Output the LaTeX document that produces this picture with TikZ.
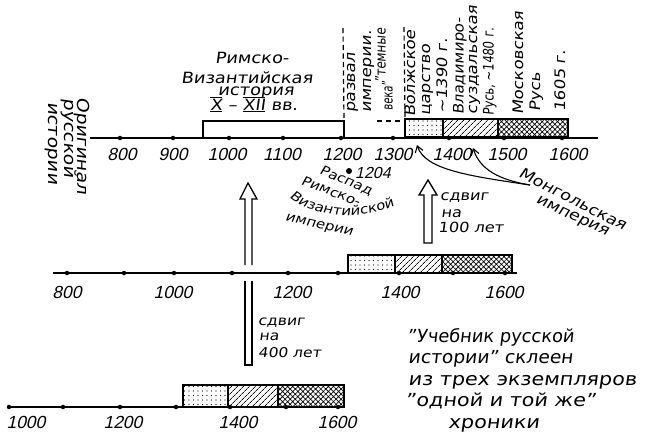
\documentclass[tikz,border=0pt]{standalone}
\usepackage{fontspec}
\setmainfont{DejaVu Sans}[FakeSlant=0.14,FakeStretch=1.15]
\newfontfamily\numfont{Liberation Sans}[FakeSlant=0.22]
\usetikzlibrary{patterns.meta,arrows.meta,decorations.text}
\newcommand\fs[1]{\fontsize{#1}{#1}\selectfont}
\newcommand\barred[1]{$\overline{\underline{\hbox{#1}}}$}
\tikzset{
  axis/.style={line width=1.3pt},
  tick/.style={circle,fill=black,inner sep=0pt,minimum size=4.5pt},
  yr/.style={font=\numfont\fs{17.5},inner sep=0pt,anchor=base},
  col/.style={rotate=90,anchor=mid west,inner sep=0pt,font=\fs{14.5}},
  lcol/.style={rotate=-90,anchor=mid west,inner sep=0pt,font=\fs{16.5}},
  lbl/.style={inner sep=0pt,anchor=base west},
  segbox/.style={draw,line width=1.2pt,inner sep=0pt,outer sep=0pt,anchor=south west},
  dotsfill/.style={segbox,pattern={Dots[distance=4.5pt,radius=0.65pt]}},
  hatchfill/.style={segbox,pattern={Lines[angle=45,distance=4pt,line width=0.8pt]}},
  crossfill/.style={segbox,pattern={Hatch[angle=45,distance=3.6pt,line width=0.7pt]}},
  dashline/.style={line width=1.2pt,dash pattern=on 5pt off 3.5pt},
  bigarrow/.style={line width=1.3pt,line join=miter},
  monarrow/.style={line width=1.1pt,-{Straight Barb[length=6pt,width=8pt]}},
}
\begin{document}
\begin{tikzpicture}[x=1pt,y=-1pt]
\path[use as bounding box,fill=white] (0,0) rectangle (650,445);

% ---------- top time line ----------
\node[segbox,minimum width=141pt,minimum height=17pt] (rome) at (203,138) {};
\node[dotsfill,minimum width=38pt,minimum height=18pt] (tv1) at (405,137) {};
\node[hatchfill,minimum width=55pt,minimum height=18pt] (tv2) at (443,137) {};
\node[crossfill,minimum width=70pt,minimum height=18pt] (tv3) at (498,137) {};
\coordinate (ta-l) at (90,138);
\coordinate (ta-r) at (598,138);
\draw[axis] (ta-l) -- (ta-r);
\foreach \x/\lx/\lab [count=\i] in {120/122/800,173/173/900,229/227/1000,283/282/1100,341/342/1200,393/393/1300,449/452/1400,504/507/1500,562/568/1600}{
  \node[tick] (tt\i) at (\x,138) {};
  \node[yr] (tl\i) at (\lx,160) {\lab};
}
\coordinate (dv1t) at (343,28);
\draw[dashline] (dv1t) -- (rome.north east);
\coordinate (dv2t) at (404,27);
\draw[dashline] (dv2t) -- (tv1.north west);
\coordinate (dh1) at (377,121);
\coordinate (dh2) at (401,121);
\draw[line width=1.2pt,dash pattern=on 5pt off 4pt] (dh1) -- (dh2);

% title of the Roman box
\node[inner sep=0pt,anchor=base,font=\fs{15.5}] (t1) at (252,63) {Римско-};
\node[inner sep=0pt,anchor=base,font=\fs{15.5}] (t2) at (247,83) {Византийская};
\node[inner sep=0pt,anchor=base,font=\fs{15.5}] (t3) at (256,95) {история};
\node[inner sep=0pt,anchor=base,font=\fs{15.5}] (t4) at (254,110) {\barred{X} – \barred{XII} вв.};

% vertical column texts
\node[col] (c1) at (353,113) {развал};
\node[col] (c2) at (369,113) {империи.};
\node[col] (c3) at (383,83) {\scalebox{0.72}[1]{”темные}};
\node[col] (c4) at (390,111) {\scalebox{0.6}[1]{века”}};
\node[col] (c5) at (413,117) {Волжское};
\node[col] (c6) at (428,116) {царство};
\node[col] (c7) at (445,114) {\textasciitilde1390 г.};
\node[col] (c8) at (461,115) {\scalebox{0.92}[1]{Владимиро-}};
\node[col] (c9) at (474.5,115) {суздальская};
\node[col] (c10) at (491,116) {\scalebox{0.7}[1]{Русь, \textasciitilde1480 г.}};
\node[col] (c11) at (521,115) {Московская};
\node[col] (c12) at (538,112) {Русь};
\node[col] (c13) at (563,112) {1605 г.};

% left column text
\node[lcol] (o1) at (80,97) {Оригинал};
\node[lcol] (o2) at (67,98) {русской};
\node[lcol] (o3) at (51,102) {истории};

% 1204
\node[tick,minimum size=6pt] (d1204) at (349,171) {};
\node[inner sep=0pt,anchor=base west,font=\numfont\fs{16}] (l1204) at (355,178) {1204};
\node[inner sep=0pt,rotate=-23,font=\fs{13}] (r1) at (346,181) {Распад};
\node[inner sep=0pt,rotate=-21,font=\fs{13}] (r2) at (331,191) {Римско-};
\path[decorate,decoration={text along path,text={|\fs{13}|Византийской},text align=center}]
  (283,190) .. controls (302,217) and (365,225) .. (403,201);
\node[inner sep=0pt,rotate=-13,font=\fs{13}] (r4) at (319,226) {империи};

% Mongol empire
\node[inner sep=0pt,rotate=-27,font=\fs{15}] (m1) at (573,199) {Монгольская};
\node[inner sep=0pt,rotate=-25,font=\fs{15}] (m2) at (572,217) {империя};
\coordinate (mstart) at (530,185);
\coordinate (marr1) at (417,145);
\coordinate (marr2) at (473,148);
\draw[monarrow] (mstart) .. controls (470,176) and (425,170) .. (marr1);
\draw[monarrow] (mstart) .. controls (500,180) and (480,170) .. (marr2);

% shift by 100 years
\draw[bigarrow] (424,243) -- (424,195) -- (419,195) -- (428,180) -- (437,195) -- (432,195) -- (432,243) -- cycle;
\node[lbl,font=\fs{14}] (s1a) at (440,200) {сдвиг};
\node[lbl,font=\fs{14}] (s1b) at (441,217) {на};
\node[lbl,font=\fs{14}] (s1c) at (438,232) {100 лет};

% ---------- middle time line ----------
\node[dotsfill,minimum width=47pt,minimum height=18pt] (mv1) at (348,273) {};
\node[hatchfill,minimum width=47pt,minimum height=18pt] (mv2) at (395,273) {};
\node[crossfill,minimum width=70pt,minimum height=18pt] (mv3) at (442,273) {};
\coordinate (ma-l) at (53,273);
\coordinate (ma-r) at (517,273);
\draw[axis] (ma-l) -- (ma-r);
\foreach \x [count=\i] in {67,124,174,232,288,338,399,453,505}{
  \node[tick] (mt\i) at (\x,273) {};
}
\foreach \lx/\lab [count=\i] in {67/800,173/1000,292/1200,400/1400,504/1600}{
  \node[yr] (ml\i) at (\lx,298) {\lab};
}

% shift by 400 years
\draw[bigarrow] (245,265) -- (245,199) -- (240,199) -- (248,183) -- (257,199) -- (252,199) -- (252,265);
\draw[bigarrow] (245,281) -- (245,365) -- (252,365) -- (252,281);
\node[lbl,font=\fs{13.5}] (s4a) at (258,325) {сдвиг};
\node[lbl,font=\fs{13.5}] (s4b) at (259,340) {на};
\node[lbl,font=\fs{13.5}] (s4c) at (258,357) {400 лет};

% ---------- bottom time line ----------
\node[dotsfill,minimum width=45pt,minimum height=22pt] (bv1) at (183,407) {};
\node[hatchfill,minimum width=50pt,minimum height=22pt] (bv2) at (228,407) {};
\node[crossfill,minimum width=66pt,minimum height=22pt] (bv3) at (278,407) {};
\coordinate (ba-l) at (9,407);
\coordinate (ba-r) at (344,407);
\draw[axis] (ba-l) -- (ba-r);
\foreach \x [count=\i] in {9,63,120,176,230,286,338}{
  \node[tick] (bt\i) at (\x,407) {};
}
\foreach \lx/\lab [count=\i] in {26/1000,123/1200,238/1400,337/1600}{
  \node[yr] (bl\i) at (\lx,428) {\lab};
}

% ---------- note ----------
\node[lbl,font=\fs{18}] (n1) at (407,342) {\scalebox{0.86}[1]{”Учебник русской}};
\node[lbl,font=\fs{18}] (n2) at (408,363.5) {\scalebox{0.9}[1]{истории” склеен}};
\node[lbl,font=\fs{18}] (n3) at (408,385) {из трех экземпляров};
\node[lbl,font=\fs{18}] (n4) at (405,406.5) {”одной и той же”};
\node[lbl,font=\fs{18}] (n5) at (448,428) {хроники};
\end{tikzpicture}
\end{document}
